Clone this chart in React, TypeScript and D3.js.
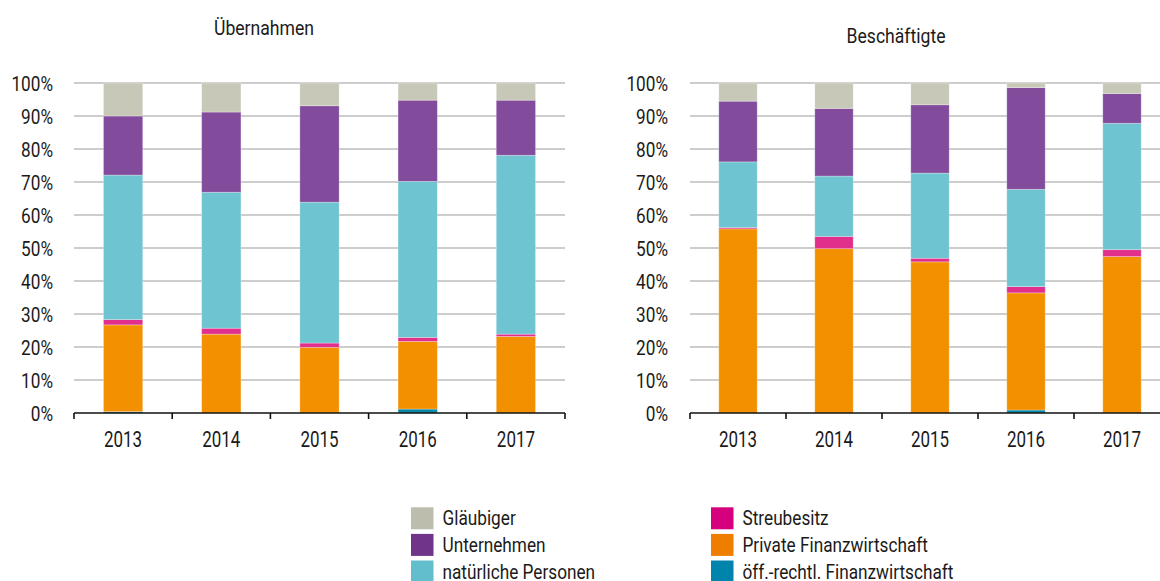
import React from "react";
import * as d3 from "d3";

const years = ["2013", "2014", "2015", "2016", "2017"];
const yTicks = [0, 10, 20, 30, 40, 50, 60, 70, 80, 90, 100];

// Übernahmen (%), bottom to top
const oeffUeb = [0.4, 0, 0, 1.2, 0];
const privUeb = [26.3, 23.9, 19.9, 20.5, 23.2];
const streuUeb = [1.6, 1.8, 1.3, 1.2, 0.7];
const natUeb = [43.8, 41.2, 42.7, 47.3, 54.2];
const untUeb = [17.9, 24.3, 29.2, 24.6, 16.7];
const glUeb = [10.0, 8.8, 6.9, 5.2, 5.2];

// Beschäftigte (%), bottom to top
const oeffBes = [0, 0, 0, 0.9, 0];
const privBes = [55.8, 49.8, 45.8, 35.5, 47.4];
const streuBes = [0.4, 3.7, 1.1, 1.9, 2.1];
const natBes = [19.9, 18.3, 25.8, 29.5, 38.3];
const untBes = [18.4, 20.5, 20.7, 30.8, 9.0];
const glBes = [5.5, 7.7, 6.6, 1.4, 3.2];

const seriesKeys = ["oeff", "priv", "streu", "nat", "unt", "gl"];
const seriesNames: Record<string, string> = {
  gl: "Gläubiger",
  unt: "Unternehmen",
  nat: "natürliche Personen",
  streu: "Streubesitz",
  priv: "Private Finanzwirtschaft",
  oeff: "öff.-rechtl. Finanzwirtschaft",
};
const legendColors: Record<string, string> = {
  gl: "#bdbdae",
  unt: "#70358a",
  nat: "#62bdcc",
  streu: "#d6007f",
  priv: "#ef7d00",
  oeff: "#0084ab",
};
const barColors: Record<string, string> = {
  gl: "#c8c8b9",
  unt: "#824b9b",
  nat: "#6ec4d0",
  streu: "#e0308c",
  priv: "#f39000",
  oeff: "#0a87a8",
};
const legendCol1 = ["gl", "unt", "nat"];
const legendCol2 = ["streu", "priv", "oeff"];

const FONT = "Roboto, 'Liberation Sans', sans-serif";

function T({ x, y, size, sx = 0.82, anchor = "start", children }: any) {
  return (
    <text
      transform={`translate(${x},${y}) scale(${sx},1)`}
      textAnchor={anchor}
      fontSize={size}
      fontFamily={FONT}
      fill="#1a1a1a"
    >
      {children}
    </text>
  );
}

function buildRows(arrs: Record<string, number[]>) {
  return years.map((yr, i) => {
    const row: any = { year: yr };
    seriesKeys.forEach((k) => (row[k] = arrs[k][i]));
    return row;
  });
}

function Panel({ title, titleX, titleY, x0, x1, labelX, rows }: any) {
  const x = d3.scaleBand<string>().domain(years).range([x0, x1]).paddingInner(0.6).paddingOuter(0.3);
  const y = d3.scaleLinear().domain([0, 100]).range([413, 83]);
  const stack = d3.stack<any>().keys(seriesKeys);
  const layers = stack(rows);
  const step = x.step();
  const boundaries = d3.range(years.length + 1).map((i) => x0 + i * step);
  return (
    <g>
      <T x={titleX} y={titleY} size={20} sx={0.88} anchor="middle">{title}</T>
      {yTicks.map((t) => (
        <g key={t}>
          {t > 0 && (
            <line x1={x0} x2={Math.min(x1, 1160)} y1={y(t)} y2={y(t)} stroke="#bdbdbd" strokeWidth={1.3} />
          )}
          <T x={labelX} y={y(t) + 7.5} size={20} sx={0.86} anchor="end">{t}%</T>
        </g>
      ))}
      {layers.map((layer) => (
        <g key={layer.key}>
          {layer.map((d, i) => {
            const h = y(d[0]) - y(d[1]);
            if (h <= 0) return null;
            return (
              <rect
                key={i}
                x={x(years[i])}
                y={y(d[1])}
                width={x.bandwidth()}
                height={h}
                fill={barColors[layer.key]}
                stroke="#ffffff"
                strokeOpacity={0.35}
                strokeWidth={0.8}
              />
            );
          })}
        </g>
      ))}
      <line x1={x0} x2={Math.min(x1, 1160)} y1={413} y2={413} stroke="#111" strokeWidth={1.6} />
      {boundaries.map((bx, i) => (
        <line key={i} x1={bx} x2={bx} y1={413} y2={419} stroke="#111" strokeWidth={1.6} />
      ))}
      {years.map((yr) => (
        <T key={yr} x={(x(yr) as number) + x.bandwidth() / 2} y={446.5} size={22} sx={0.77} anchor="middle">
          {yr}
        </T>
      ))}
    </g>
  );
}

export default function App() {
  const rowsUeb = buildRows({ oeff: oeffUeb, priv: privUeb, streu: streuUeb, nat: natUeb, unt: untUeb, gl: glUeb });
  const rowsBes = buildRows({ oeff: oeffBes, priv: privBes, streu: streuBes, nat: natBes, unt: untBes, gl: glBes });
  const legendRowY = (i: number) => 507.3 + i * 26.6;
  return (
    <svg width={1160} height={581} style={{ position: "absolute", left: 0, top: 0, background: "#fff" }}>
      <rect width={1160} height={581} fill="#fff" />
      <Panel title="Übernahmen" titleX={264} titleY={35} x0={74} x1={565} labelX={53} rows={rowsUeb} />
      <Panel title="Beschäftigte" titleX={896} titleY={43} x0={690} x1={1170} labelX={668} rows={rowsBes} />
      {legendCol1.map((k, i) => (
        <g key={k}>
          <rect x={411} y={legendRowY(i)} width={22.5} height={22} fill={legendColors[k]} />
          <T x={442.5} y={legendRowY(i) + 18} size={21} sx={0.82}>{seriesNames[k]}</T>
        </g>
      ))}
      {legendCol2.map((k, i) => (
        <g key={k}>
          <rect x={711} y={legendRowY(i)} width={22.5} height={22} fill={legendColors[k]} />
          <T x={742.5} y={legendRowY(i) + 18} size={21} sx={0.82}>{seriesNames[k]}</T>
        </g>
      ))}
    </svg>
  );
}
